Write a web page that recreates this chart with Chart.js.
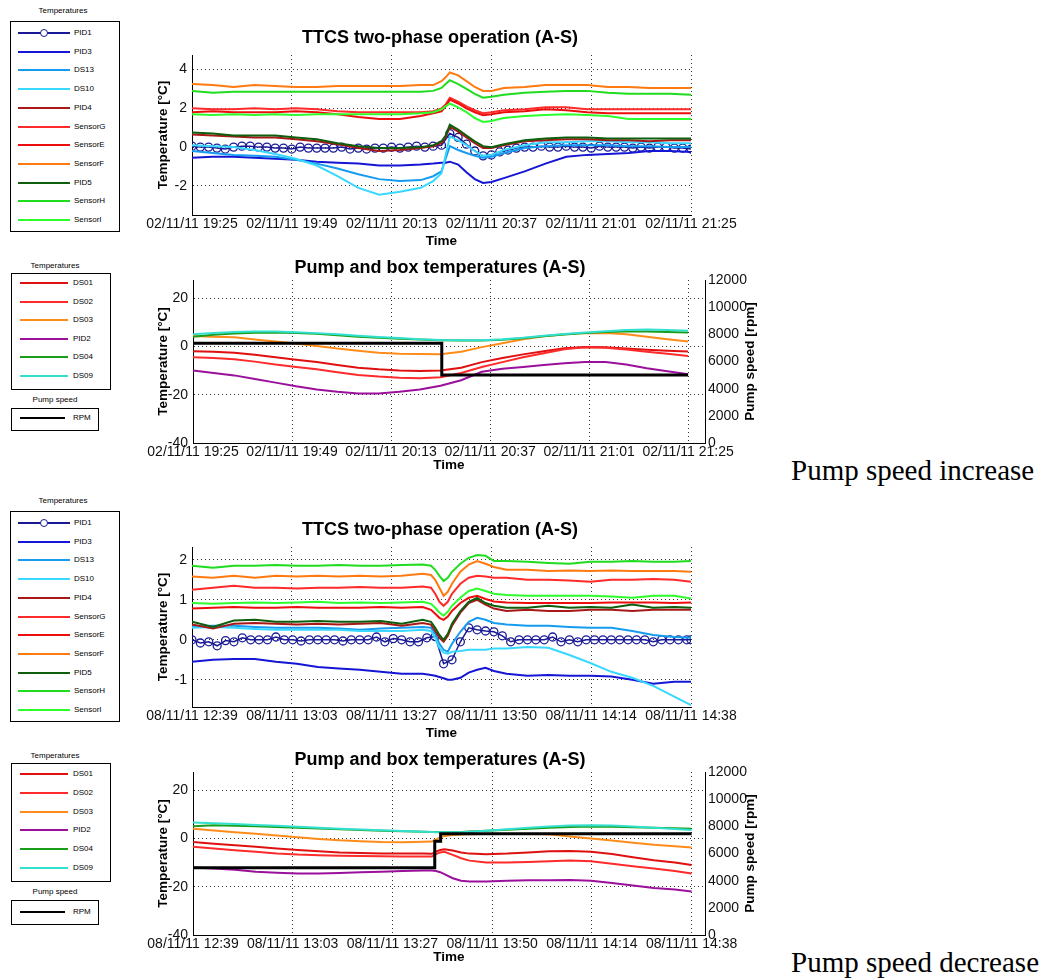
<!DOCTYPE html>
<html>
<head>
<meta charset="utf-8">
<script src="https://cdn.jsdelivr.net/npm/chart.js@4.4.0/dist/chart.umd.min.js"></script>
<style>
body { margin: 0; background: #fff; }
#page { position: relative; width: 1046px; height: 980px; overflow: hidden; font-family: 'Liberation Sans', Arial, sans-serif; }
canvas { position: absolute; }
.lt { position: absolute; font-size: 8px; color: #000; transform: translate(-50%, -50%); white-space: nowrap; }
.lbox { position: absolute; border: 1px solid #000; background: #fff; box-sizing: border-box; }
.lline { position: absolute; height: 2px; }
.lmark { position: absolute; width: 6px; height: 6px; border: 1.5px solid; border-radius: 50%; background: #fff; }
.ltext { position: absolute; font-size: 8px; line-height: 10px; white-space: nowrap; color: #000; }
.note { position: absolute; font-family: 'Liberation Serif', 'Times New Roman', serif; font-size: 29px; line-height: 34px; white-space: nowrap; color: #000; }
</style>
</head>
<body>
<div id="page">
  <canvas id="cA" width="640" height="235" style="left:120px; top:20px"></canvas>
  <canvas id="cB" width="640" height="225" style="left:120px; top:250px"></canvas>
  <canvas id="cC" width="640" height="235" style="left:120px; top:512px"></canvas>
  <canvas id="cD" width="640" height="225" style="left:120px; top:742px"></canvas>
  <div class="note" style="left:791px; top:453px">Pump speed increase</div>
  <div class="note" style="left:791px; top:945px">Pump speed decrease</div>
</div>
<script>
// ---- legends ----
const ttcsNames = ['PID1', 'PID3', 'DS13', 'DS10', 'PID4', 'SensorG', 'SensorE', 'SensorF', 'PID5', 'SensorH', 'SensorI'];
const ttcsColors = ['#1a1a96', '#1515d5', '#159cf0', '#38d8ff', '#a81818', '#ff2a2a', '#ee0d0d', '#ff7a10', '#0d5f0d', '#1fdc1f', '#2cff2c'];
const boxNames = ['DS01', 'DS02', 'DS03', 'PID2', 'DS04', 'DS09'];
const boxColors = ['#e01010', '#ff2a2a', '#ff8c1a', '#9a109a', '#1a9e1a', '#33e0d0'];

// ---- x axis ticks (minutes from start) ----
const xTicksA = [0, 24, 48, 72, 96, 120];
const xLabelsA = ['02/11/11 19:25', '02/11/11 19:49', '02/11/11 20:13', '02/11/11 20:37', '02/11/11 21:01', '02/11/11 21:25'];
const xTicksC = [0, 23.8, 47.6, 71.4, 95.2, 119];
const xLabelsC = ['08/11/11 12:39', '08/11/11 13:03', '08/11/11 13:27', '08/11/11 13:50', '08/11/11 14:14', '08/11/11 14:38'];
const yTicksA = [-2, 0, 2, 4];
const yTicksC = [-1, 0, 1, 2];
const yTicksBox = [-40, -20, 0, 20];
const rpmTicks = [0, 2000, 4000, 6000, 8000, 10000, 12000];

// ---- chart A: TTCS, 02/11/11 ----
const tA = [0, 5, 10, 15, 20, 25, 30, 35, 40, 45, 50, 55, 58, 60, 61, 62, 64, 66, 68, 70, 72, 75, 80, 85, 90, 95, 100, 105, 110, 115, 120];
const tA_pid1 = [0, 2, 4, 6, 8, 10, 12, 14, 16, 18, 20, 22, 24, 26, 28, 30, 32, 34, 36, 38, 40, 42, 44, 46, 48, 50, 52, 54, 56, 58, 60, 62, 64, 66, 68, 70, 72, 74, 76, 78, 80, 82, 84, 86, 88, 90, 92, 94, 96, 98, 100, 102, 104, 106, 108, 110, 112, 114, 116, 118, 120];
const A_PID1 = [0.05, 0.0, 0.0, -0.05, -0.1, 0.0, 0.05, 0.05, 0.0, 0.0, -0.05, -0.05, -0.1, 0.0, -0.05, -0.05, -0.05, -0.05, 0.0, -0.1, -0.05, -0.1, -0.05, -0.05, 0.0, -0.05, 0.0, 0.05, 0.0, 0.05, 0.1, 0.7, 0.5, 0.15, -0.2, -0.45, -0.4, -0.25, -0.15, -0.05, 0.0, 0.0, 0.05, 0.0, 0.0, 0.05, 0.0, 0.0, -0.05, 0.05, 0.0, 0.0, 0.0, -0.05, 0.0, -0.05, 0.0, 0.0, -0.05, -0.05, -0.1];
const A_PID3 = [-0.55, -0.5, -0.5, -0.55, -0.6, -0.65, -0.75, -0.8, -0.85, -0.95, -0.95, -0.9, -0.85, -0.8, -0.8, -0.75, -0.9, -1.3, -1.65, -1.85, -1.8, -1.6, -1.25, -0.85, -0.5, -0.4, -0.35, -0.3, -0.2, -0.2, -0.25];
const A_DS13 = [-0.2, -0.3, -0.4, -0.45, -0.5, -0.65, -0.85, -1.1, -1.4, -1.65, -1.75, -1.7, -1.5, -1.25, -0.6, 0.05, -0.15, -0.3, -0.45, -0.55, -0.5, -0.3, -0.05, 0.05, 0.1, 0.1, 0.1, 0.05, 0.05, 0.0, 0.0];
const A_DS10 = [0.1, 0.05, 0.0, -0.15, -0.35, -0.6, -0.95, -1.5, -2.1, -2.45, -2.3, -2.1, -1.75, -1.35, -0.4, 0.55, 0.35, 0.1, -0.2, -0.45, -0.4, -0.15, 0.1, 0.25, 0.25, 0.3, 0.3, 0.25, 0.25, 0.2, 0.2];
const A_PID4 = [0.65, 0.6, 0.55, 0.5, 0.5, 0.4, 0.3, 0.15, -0.05, -0.2, -0.15, -0.05, 0.05, 0.2, 0.5, 1.05, 0.8, 0.5, 0.2, -0.05, -0.05, 0.1, 0.3, 0.35, 0.4, 0.4, 0.35, 0.35, 0.3, 0.35, 0.35];
const A_SensorG = [2.0, 1.95, 1.95, 2.0, 1.95, 2.0, 1.95, 1.85, 1.8, 1.8, 1.8, 1.8, 1.85, 2.0, 2.2, 2.55, 2.35, 2.1, 1.9, 1.75, 1.8, 1.9, 1.95, 2.05, 2.05, 1.95, 1.95, 1.95, 1.95, 1.95, 1.95];
const A_SensorE = [1.8, 1.85, 1.8, 1.8, 1.8, 1.85, 1.8, 1.7, 1.55, 1.45, 1.45, 1.6, 1.75, 1.85, 2.1, 2.45, 2.25, 2.0, 1.8, 1.65, 1.7, 1.8, 1.85, 1.95, 1.9, 1.8, 1.75, 1.75, 1.75, 1.75, 1.75];
const A_SensorF = [3.25, 3.2, 3.1, 3.2, 3.15, 3.1, 3.1, 3.15, 3.15, 3.15, 3.15, 3.2, 3.2, 3.4, 3.6, 3.85, 3.7, 3.4, 3.1, 2.9, 2.9, 3.05, 3.1, 3.2, 3.2, 3.2, 3.1, 3.1, 3.05, 3.05, 3.05];
const A_PID5 = [0.75, 0.7, 0.6, 0.6, 0.6, 0.5, 0.4, 0.2, 0.05, -0.05, -0.05, 0.0, 0.1, 0.3, 0.6, 1.15, 0.9, 0.6, 0.3, 0.05, 0.0, 0.15, 0.35, 0.45, 0.5, 0.5, 0.45, 0.45, 0.45, 0.45, 0.45];
const A_SensorH = [2.9, 2.8, 2.85, 2.85, 2.85, 2.85, 2.85, 2.85, 2.85, 2.85, 2.85, 2.85, 2.9, 3.05, 3.25, 3.45, 3.25, 3.0, 2.75, 2.55, 2.6, 2.7, 2.8, 2.85, 2.9, 2.9, 2.8, 2.75, 2.75, 2.75, 2.7];
const A_SensorI = [1.7, 1.65, 1.7, 1.65, 1.7, 1.65, 1.7, 1.7, 1.7, 1.7, 1.7, 1.75, 1.8, 1.95, 2.1, 2.25, 2.05, 1.8, 1.5, 1.3, 1.35, 1.5, 1.6, 1.65, 1.7, 1.65, 1.6, 1.45, 1.45, 1.45, 1.45];

// ---- chart B: pump and box, 02/11/11 ----
const tB = [0, 5, 10, 15, 20, 25, 30, 35, 40, 45, 50, 55, 60, 65, 70, 75, 80, 85, 90, 95, 100, 105, 110, 115, 120];
const B_DS01 = [-2.0, -2.2, -2.6, -3.5, -4.5, -5.5, -6.5, -7.7, -8.8, -9.5, -10.0, -10.2, -10.0, -8.8, -6.5, -4.8, -3.3, -2.0, -0.8, -0.2, -0.4, -0.9, -1.4, -1.8, -2.1];
const B_DS02 = [-4.5, -4.8, -5.3, -6.3, -7.5, -8.5, -9.5, -10.7, -11.8, -12.5, -13.0, -13.2, -12.8, -11.0, -8.5, -6.5, -4.5, -2.8, -1.2, -0.3, -0.6, -1.3, -2.2, -3.0, -4.0];
const B_DS03 = [4.3, 4.0, 3.75, 2.9, 2.0, 1.2, 0.2, -0.9, -1.8, -2.6, -3.0, -3.1, -3.2, -2.2, -0.3, 1.3, 3.0, 4.2, 5.0, 5.5, 5.6, 5.0, 4.0, 3.0, 2.0];
const B_PID2 = [-10.0, -11.0, -12.0, -13.5, -15.0, -16.5, -17.8, -18.8, -19.5, -19.5, -18.8, -17.8, -16.3, -14.0, -10.5, -9.3, -8.5, -7.7, -7.0, -6.5, -6.5, -7.5, -9.0, -10.3, -11.5];
const B_DS04 = [4.0, 4.8, 5.3, 5.7, 5.8, 5.6, 5.2, 4.6, 4.0, 3.6, 3.2, 2.9, 2.6, 2.4, 2.4, 2.8, 3.4, 4.2, 4.9, 5.5, 6.0, 6.2, 6.2, 6.0, 5.8];
const B_DS09 = [5.0, 5.6, 6.0, 6.2, 6.2, 5.9, 5.5, 5.0, 4.4, 3.9, 3.5, 3.0, 2.7, 2.6, 2.6, 3.0, 3.6, 4.4, 5.1, 5.8, 6.3, 6.8, 7.0, 6.8, 6.5];
const tB_rpm = [0, 30, 60.3, 60.3, 90, 120];
const B_RPM = [7350, 7350, 7350, 5000, 5000, 5000];

// ---- chart C: TTCS, 08/11/11 ----
const tC = [0, 5, 10, 15, 20, 25, 30, 35, 40, 45, 50, 55, 57, 58, 59, 60, 61, 62, 64, 66, 68, 70, 72, 75, 80, 85, 90, 95, 100, 105, 110, 115, 119];
const tC_pid1 = [0, 2, 4, 6, 8, 10, 12, 14, 16, 18, 20, 22, 24, 26, 28, 30, 32, 34, 36, 38, 40, 42, 44, 46, 48, 50, 52, 54, 56, 58, 60, 62, 64, 66, 68, 70, 72, 74, 76, 78, 80, 82, 84, 86, 88, 90, 92, 94, 96, 98, 100, 102, 104, 106, 108, 110, 112, 114, 116, 118, 119];
const C_PID1 = [0.0, -0.08, -0.05, -0.15, -0.02, -0.05, 0.05, 0.0, 0.0, 0.0, 0.07, 0.0, 0.0, -0.03, 0.0, 0.0, 0.0, 0.0, -0.03, 0.0, 0.0, 0.0, 0.07, -0.05, 0.03, 0.0, -0.05, -0.05, 0.05, 0.08, -0.6, -0.5, -0.05, 0.3, 0.25, 0.22, 0.2, 0.1, -0.05, 0.0, 0.0, 0.0, 0.0, 0.07, -0.05, 0.0, -0.05, 0.0, 0.0, 0.0, 0.0, 0.0, 0.0, 0.0, 0.0, -0.05, 0.0, 0.0, 0.0, 0.0, 0.0];
const C_PID3 = [-0.55, -0.5, -0.48, -0.48, -0.55, -0.6, -0.68, -0.72, -0.75, -0.8, -0.85, -0.85, -0.88, -0.9, -0.93, -0.96, -1.0, -1.0, -0.95, -0.82, -0.75, -0.7, -0.78, -0.85, -0.9, -0.88, -0.9, -0.9, -0.92, -1.0, -1.1, -1.05, -1.05];
const C_DS13 = [0.33, 0.35, 0.35, 0.32, 0.3, 0.3, 0.3, 0.28, 0.25, 0.28, 0.3, 0.32, 0.3, 0.15, -0.1, -0.25, -0.3, -0.1, 0.2, 0.45, 0.55, 0.5, 0.42, 0.38, 0.35, 0.35, 0.32, 0.3, 0.3, 0.22, 0.12, 0.07, 0.05];
const C_DS10 = [0.3, 0.32, 0.3, 0.27, 0.25, 0.25, 0.25, 0.25, 0.22, 0.22, 0.22, 0.25, 0.22, 0.05, -0.2, -0.32, -0.35, -0.3, -0.28, -0.25, -0.25, -0.25, -0.22, -0.22, -0.18, -0.2, -0.38, -0.58, -0.8, -0.95, -1.15, -1.42, -1.63];
const C_PID4 = [0.38, 0.28, 0.4, 0.42, 0.4, 0.38, 0.4, 0.38, 0.4, 0.42, 0.35, 0.42, 0.38, 0.22, 0.05, -0.05, 0.1, 0.35, 0.68, 0.92, 1.0, 0.88, 0.78, 0.72, 0.75, 0.72, 0.72, 0.75, 0.75, 0.72, 0.75, 0.75, 0.75];
const C_SensorG = [1.25, 1.3, 1.35, 1.3, 1.3, 1.28, 1.3, 1.3, 1.32, 1.3, 1.3, 1.33, 1.3, 1.15, 0.95, 0.85, 0.95, 1.15, 1.4, 1.55, 1.6, 1.58, 1.55, 1.55, 1.5, 1.5, 1.48, 1.45, 1.5, 1.5, 1.52, 1.5, 1.45];
const C_SensorE = [0.78, 0.8, 0.82, 0.8, 0.8, 0.82, 0.8, 0.8, 0.8, 0.82, 0.8, 0.82, 0.75, 0.65, 0.55, 0.5, 0.58, 0.72, 0.92, 1.05, 1.1, 1.02, 0.96, 0.93, 0.92, 0.92, 0.92, 0.92, 0.93, 0.93, 0.93, 0.92, 0.93];
const C_SensorF = [1.58, 1.55, 1.6, 1.55, 1.6, 1.58, 1.6, 1.58, 1.6, 1.58, 1.6, 1.65, 1.62, 1.5, 1.3, 1.1, 1.2, 1.4, 1.7, 1.88, 1.97, 1.9, 1.82, 1.75, 1.75, 1.72, 1.73, 1.72, 1.73, 1.72, 1.72, 1.72, 1.7];
const C_PID5 = [0.45, 0.32, 0.48, 0.5, 0.45, 0.45, 0.47, 0.45, 0.45, 0.47, 0.4, 0.5, 0.45, 0.3, 0.12, 0.0, 0.15, 0.4, 0.72, 0.95, 1.05, 0.92, 0.85, 0.8, 0.8, 0.85, 0.8, 0.82, 0.8, 0.88, 0.8, 0.82, 0.8];
const C_SensorH = [1.85, 1.8, 1.85, 1.85, 1.87, 1.85, 1.85, 1.87, 1.85, 1.85, 1.87, 1.88, 1.85, 1.75, 1.6, 1.47, 1.55, 1.7, 1.9, 2.05, 2.12, 2.1, 1.97, 1.97, 1.95, 1.92, 1.9, 1.95, 1.95, 1.97, 1.95, 1.95, 1.97];
const C_SensorI = [0.92, 0.9, 0.92, 0.93, 0.92, 0.93, 0.95, 0.92, 0.93, 0.92, 0.93, 0.95, 0.9, 0.8, 0.68, 0.6, 0.7, 0.85, 1.05, 1.22, 1.28, 1.22, 1.15, 1.12, 1.1, 1.1, 1.1, 1.1, 1.08, 1.05, 1.1, 1.1, 1.03];

// ---- chart D: pump and box, 08/11/11 ----
const tD = [0, 5, 10, 15, 20, 25, 30, 35, 40, 45, 50, 55, 57, 58, 59, 60, 62, 64, 66, 70, 75, 80, 85, 90, 95, 100, 105, 110, 115, 119];
const D_DS01 = [-1.5, -2.2, -2.8, -3.5, -4.2, -4.8, -5.3, -5.8, -6.0, -6.2, -6.3, -6.3, -6.4, -5.5, -4.8, -4.5, -5.0, -5.8, -6.3, -6.6, -6.3, -5.8, -5.3, -5.2, -5.5, -6.5, -7.8, -9.0, -10.0, -11.0];
const D_DS02 = [-3.5, -4.2, -4.9, -5.5, -6.2, -6.7, -7.0, -7.2, -7.3, -7.4, -7.5, -7.5, -7.5, -6.5, -5.8, -5.5, -6.8, -8.2, -9.2, -10.0, -10.0, -9.8, -9.5, -9.2, -9.5, -10.5, -11.5, -12.5, -13.5, -14.5];
const D_DS03 = [4.0, 3.3, 2.6, 1.9, 1.2, 0.5, -0.2, -0.8, -1.2, -1.5, -1.6, -1.4, -1.3, -0.5, 0.5, 1.0, 1.4, 1.6, 1.7, 1.8, 1.8, 1.8, 1.7, 0.8, 0.0, -0.9, -1.8, -2.6, -3.2, -3.8];
const D_PID2 = [-12.0, -12.5, -13.0, -13.8, -14.2, -14.5, -14.5, -14.3, -14.0, -13.8, -13.5, -13.3, -13.3, -13.5, -14.0, -14.8, -16.5, -17.5, -17.8, -17.8, -17.5, -17.3, -17.3, -17.2, -17.5, -18.5, -19.5, -20.5, -21.2, -22.0];
const D_DS04 = [5.0, 5.4, 5.2, 5.0, 4.7, 4.4, 4.1, 3.8, 3.5, 3.2, 3.0, 2.8, 2.7, 2.7, 2.6, 2.6, 2.6, 2.7, 2.9, 3.2, 3.6, 4.0, 4.4, 4.7, 4.9, 4.8, 4.6, 4.4, 4.2, 4.0];
const D_DS09 = [6.6, 6.3, 6.0, 5.6, 5.2, 4.8, 4.4, 4.0, 3.7, 3.4, 3.1, 2.8, 2.7, 2.6, 2.6, 2.5, 2.5, 2.6, 2.8, 3.2, 3.8, 4.4, 4.9, 5.3, 5.5, 5.3, 4.9, 4.4, 3.9, 3.5];
const tD_rpm = [0, 30, 57.7, 57.7, 59.1, 59.1, 90, 119];
const D_RPM = [4950, 4950, 4950, 6900, 6900, 7450, 7450, 7450];

Chart.defaults.font.family = "'Liberation Sans', Arial, sans-serif";
Chart.defaults.color = '#111';

const rightTitle = {
  id: 'rightTitle',
  afterDraw(chart, args, opts) {
    const s = chart.scales.y2;
    if (!s || !opts.text) return;
    const ctx = chart.ctx;
    ctx.save();
    ctx.translate(s.right - opts.offset, (s.top + s.bottom) / 2);
    ctx.rotate(-Math.PI / 2);
    ctx.font = "bold 13.5px 'Liberation Sans', Arial, sans-serif";
    ctx.fillStyle = '#000';
    ctx.textAlign = 'center';
    ctx.textBaseline = 'middle';
    ctx.fillText(opts.text, 0, 0);
    ctx.restore();
  }
};

function line(label, color, xs, ys, i, extra) {
  return Object.assign({
    label: label,
    borderColor: color,
    backgroundColor: color,
    borderWidth: 2,
    pointRadius: 0,
    tension: 0,
    order: -i,
    yAxisID: 'y',
    data: xs.map((x, k) => ({ x: x, y: ys[k] }))
  }, extra || {});
}

function pid1Style(color) {
  return { borderWidth: 1.5, pointRadius: 4, pointBorderWidth: 1.3, pointBackgroundColor: 'rgba(0,0,0,0)', pointBorderColor: color };
}

function makeChart(id, p) {
  const gridStyle = { color: '#333', lineWidth: 1, drawTicks: false };
  const borderStyle = { color: '#000', width: 1, dash: [1, 3] };
  const scales = {
    x: {
      type: 'linear', min: 0, max: p.xMax,
      afterBuildTicks: s => { s.ticks = p.xTicks.map(v => ({ value: v })); },
      afterFit: s => { s.height = p.xHeight; },
      ticks: { autoSkip: false, maxRotation: 0, padding: 1, font: { size: 14 }, callback: (v, i) => p.xLabels[i] },
      grid: gridStyle,
      border: borderStyle,
      title: { display: true, text: 'Time', color: '#000', font: { size: 13.5, weight: 'bold' }, padding: { top: 0, bottom: p.timePad } }
    },
    y: {
      position: 'left', min: p.yMin, max: p.yMax,
      afterBuildTicks: s => { s.ticks = p.yTicks.map(v => ({ value: v })); },
      afterFit: s => { s.width = p.yWidth; },
      ticks: { padding: 5, font: { size: 14 }, callback: v => String(v) },
      grid: gridStyle,
      border: borderStyle,
      title: { display: true, text: 'Temperature [°C]', color: '#000', font: { size: 13.5, weight: 'bold' }, padding: { top: 35, bottom: 0 } }
    }
  };
  if (p.rpm) {
    scales.y2 = {
      position: 'right', min: 0, max: 12000,
      afterBuildTicks: s => { s.ticks = rpmTicks.map(v => ({ value: v })); },
      afterFit: s => { s.width = p.rightWidth; },
      ticks: { padding: 3, font: { size: 14 }, callback: v => String(v) },
      grid: { drawOnChartArea: false, drawTicks: false },
      border: { color: '#000', width: 1 }
    };
  } else {
    // empty right strip so the title stays centred on the canvas
    scales.y2 = {
      position: 'right', min: 0, max: 1,
      afterFit: s => { s.width = p.rightWidth; },
      ticks: { display: false },
      grid: { display: false },
      border: { display: false }
    };
  }
  return new Chart(document.getElementById(id), {
    type: 'line',
    data: { datasets: p.datasets },
    options: {
      responsive: false,
      animation: false,
      devicePixelRatio: 1,
      layout: { padding: 0 },
      plugins: {
        legend: { display: false },
        tooltip: { enabled: false },
        title: { display: true, text: p.title, color: '#000', font: { size: 18, weight: 'bold' }, padding: { top: 7.2, bottom: p.titleGap } },
        rightTitle: { text: p.rpm ? 'Pump speed [rpm]' : '', offset: 10 }
      },
      scales: scales
    },
    plugins: [rightTitle]
  });
}

function ttcsSets(tBase, tPid, v) {
  const c = ttcsColors;
  return ttcsNames.map((n, i) => i === 0
    ? line(n, c[i], tPid, v[i], i, pid1Style(c[i]))
    : line(n, c[i], tBase, v[i], i));
}

function boxSets(tBase, v, tRpm, rpm) {
  const sets = boxNames.map((n, i) => line(n, boxColors[i], tBase, v[i], i));
  sets.push(line('RPM', '#000', tRpm, rpm, 100, { borderWidth: 3, yAxisID: 'y2' }));
  return sets;
}

makeChart('cA', {
  title: 'TTCS two-phase operation (A-S)',
  xMax: 120, xTicks: xTicksA, xLabels: xLabelsA,
  yMin: -3.5, yMax: 4.75, yTicks: yTicksA,
  yWidth: 72, rightWidth: 69, xHeight: 40, titleGap: 6.2, timePad: 6,
  datasets: ttcsSets(tA, tA_pid1, [A_PID1, A_PID3, A_DS13, A_DS10, A_PID4, A_SensorG, A_SensorE, A_SensorF, A_PID5, A_SensorH, A_SensorI])
});

makeChart('cB', {
  title: 'Pump and box temperatures (A-S)', rpm: true,
  xMax: 124.1, xTicks: xTicksA, xLabels: xLabelsA,
  yMin: -40, yMax: 27.5, yTicks: yTicksBox,
  yWidth: 73, rightWidth: 55, xHeight: 32, titleGap: 1.2, timePad: 2,
  datasets: boxSets(tB, [B_DS01, B_DS02, B_DS03, B_PID2, B_DS04, B_DS09], tB_rpm, B_RPM)
});

makeChart('cC', {
  title: 'TTCS two-phase operation (A-S)',
  xMax: 119, xTicks: xTicksC, xLabels: xLabelsC,
  yMin: -1.68, yMax: 2.32, yTicks: yTicksC,
  yWidth: 72, rightWidth: 69, xHeight: 40, titleGap: 6.2, timePad: 6,
  datasets: ttcsSets(tC, tC_pid1, [C_PID1, C_PID3, C_DS13, C_DS10, C_PID4, C_SensorG, C_SensorE, C_SensorF, C_PID5, C_SensorH, C_SensorI])
});

makeChart('cD', {
  title: 'Pump and box temperatures (A-S)', rpm: true,
  xMax: 122.2, xTicks: xTicksC, xLabels: xLabelsC,
  yMin: -40, yMax: 27.5, yTicks: yTicksBox,
  yWidth: 73, rightWidth: 55, xHeight: 32, titleGap: 1.2, timePad: 2,
  datasets: boxSets(tD, [D_DS01, D_DS02, D_DS03, D_PID2, D_DS04, D_DS09], tD_rpm, D_RPM)
});

// ---- html legend boxes ----
const page = document.getElementById('page');

function el(cls, css, text) {
  const d = document.createElement('div');
  d.className = cls;
  Object.assign(d.style, css);
  if (text) d.textContent = text;
  page.appendChild(d);
  return d;
}

function legend(L) {
  el('lt', { left: L.titleX + 'px', top: L.titleY + 'px' }, L.title);
  el('lbox', { left: L.left + 'px', top: L.top + 'px', width: L.width + 'px', height: L.height + 'px' });
  L.names.forEach((n, i) => {
    const y = L.top + L.first + i * L.step;
    el('lline', { left: (L.left + L.lineX) + 'px', top: (y - 1) + 'px', width: L.lineW + 'px', background: L.colors[i] });
    if (L.marker === i) {
      el('lmark', { left: (L.left + L.lineX + L.lineW / 2 - 4.5) + 'px', top: (y - 4.5) + 'px', borderColor: L.colors[i] });
    }
    el('ltext', { left: (L.left + L.textX) + 'px', top: (y - 5) + 'px' }, n);
  });
}

legend({ title: 'Temperatures', titleX: 63, titleY: 10, left: 10, top: 21, width: 110, height: 211, first: 12, step: 18.7, lineX: 8, lineW: 52, textX: 64, names: ttcsNames, colors: ttcsColors, marker: 0 });
legend({ title: 'Temperatures', titleX: 63, titleY: 500, left: 10, top: 511, width: 110, height: 211, first: 12, step: 18.7, lineX: 8, lineW: 52, textX: 64, names: ttcsNames, colors: ttcsColors, marker: 0 });

legend({ title: 'Temperatures', titleX: 55, titleY: 265, left: 11, top: 273, width: 100, height: 117, first: 10, step: 18.6, lineX: 9, lineW: 48, textX: 62, names: boxNames, colors: boxColors });
legend({ title: 'Pump speed', titleX: 55, titleY: 399, left: 11, top: 408, width: 88, height: 23, first: 10, step: 0, lineX: 9, lineW: 45, textX: 62, names: ['RPM'], colors: ['#000'] });
legend({ title: 'Temperatures', titleX: 55, titleY: 755, left: 11, top: 763, width: 100, height: 119, first: 11, step: 18.8, lineX: 9, lineW: 48, textX: 62, names: boxNames, colors: boxColors });
legend({ title: 'Pump speed', titleX: 55, titleY: 891, left: 11, top: 900, width: 88, height: 25, first: 12, step: 0, lineX: 9, lineW: 45, textX: 62, names: ['RPM'], colors: ['#000'] });
</script>
</body>
</html>
